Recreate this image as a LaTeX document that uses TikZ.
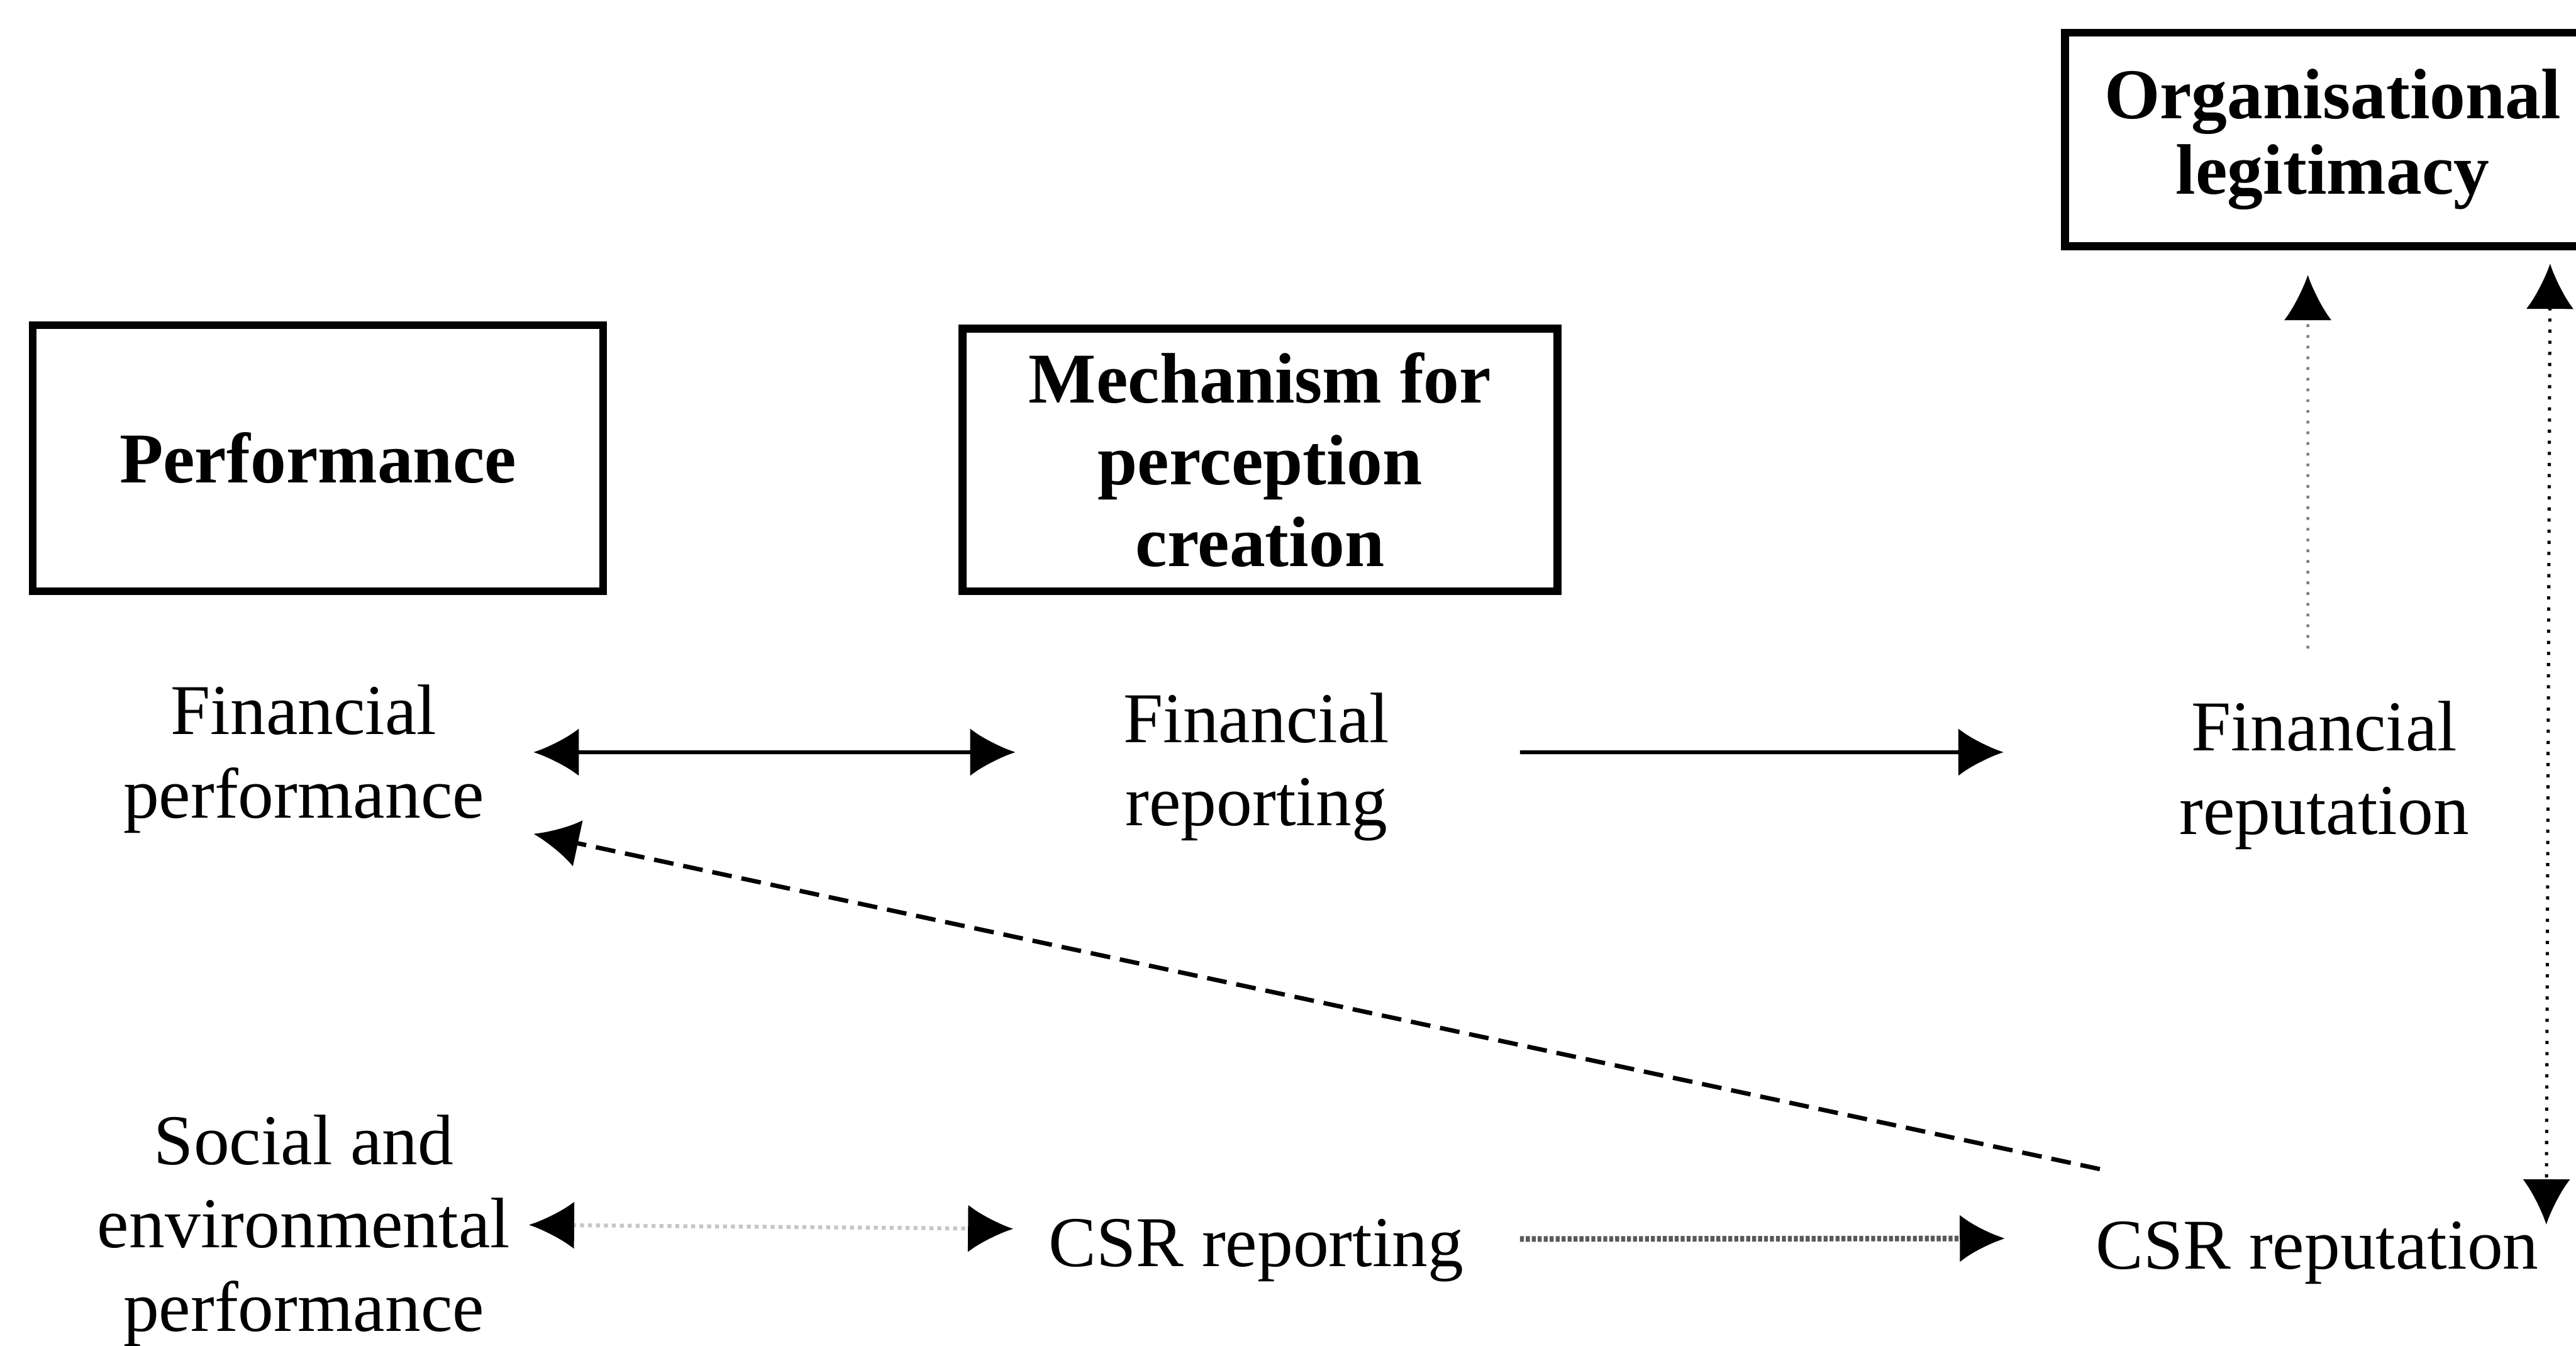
\documentclass[tikz,border=0pt]{standalone}
\usepackage{fontspec}
\setmainfont{Liberation Serif}
\usetikzlibrary{arrows.meta}

\tikzset{
  headbox/.style={draw, line width=2pt, font=\bfseries\fontsize{18}{21}\selectfont, align=center, inner sep=0pt},
  txt/.style={align=center, inner sep=0pt},
  tip/.style={>={Latex[length=4mm,width=4.2mm,color=black]}},
}

\begin{document}
\begin{tikzpicture}[font=\fontsize{18}{21}\selectfont, tip]
\useasboundingbox (0,0) rectangle (22.81,11.915);
\clip (0,0) rectangle (22.81,11.915);

% headings
\node[headbox, minimum width=5.05cm, minimum height=2.355cm] (perf) at (2.815,7.858) {Performance};
\node[headbox, minimum width=5.265cm, minimum height=2.325cm, font=\bfseries\fontsize{18}{20.6}\selectfont] (mech) at (11.157,7.843) {Mechanism for\\perception\\creation};
\node[headbox, minimum width=4.74cm, minimum height=1.89cm, font=\bfseries\fontsize{18}{19}\selectfont] (legit) at (20.655,10.68) {Organisational\\legitimacy};

% financial row
\node[txt] (fperf) at (2.69,5.195) {Financial\\performance};
\node[txt] (frep) at (11.125,5.125) {Financial\\reporting};
\node[txt] (frepu) at (20.58,5.05) {Financial\\reputation};

% csr row
\node[txt] (senv) at (2.69,1.02) {Social and\\environmental\\performance};
\node[txt] (csrr) at (11.125,0.845) {CSR reporting};
\node[txt] (csrrep) at (20.52,0.82) {CSR reputation};

\draw[<->, line width=1pt] ([xshift=4.3mm,yshift=0.6mm]fperf.east) -- ([xshift=-9.5mm,yshift=1.3mm]frep.west);
\draw[->, line width=1pt] ([xshift=11.5mm,yshift=1.3mm]frep.east) -- ([xshift=-15.5mm,yshift=2.05mm]frepu.west);
\draw[->, line width=1.1pt, dash pattern=on 5pt off 2.5pt] ([xshift=0.4mm,yshift=4.6mm]csrrep.north west) -- ([xshift=4.3mm]fperf.south east);
\draw[<->, gray!45, densely dotted, line width=1pt] ([xshift=1.6mm,yshift=0.5mm]senv.east) -- ([xshift=-3.1mm,yshift=1.9mm]csrr.west);
\draw[->, gray!70!black, line width=1.4pt, dash pattern=on 1pt off 0.5pt] ([xshift=4.9mm,yshift=1mm]csrr.east) -- ([xshift=-8mm,yshift=1.3mm]csrrep.west);

% towards legitimacy
\draw[->, gray, dotted, line width=0.7pt] ([xshift=-1.45mm,yshift=4.6mm]frepu.north) -- ([xshift=-2.2mm,yshift=-2.2mm]legit.south);
\draw[<->, black, dotted, line width=0.8pt] ([xshift=-4.8mm,yshift=-1.2mm]legit.south east) -- ([xshift=0.6mm,yshift=-0.3mm]csrrep.north east);
\end{tikzpicture}
\end{document}
